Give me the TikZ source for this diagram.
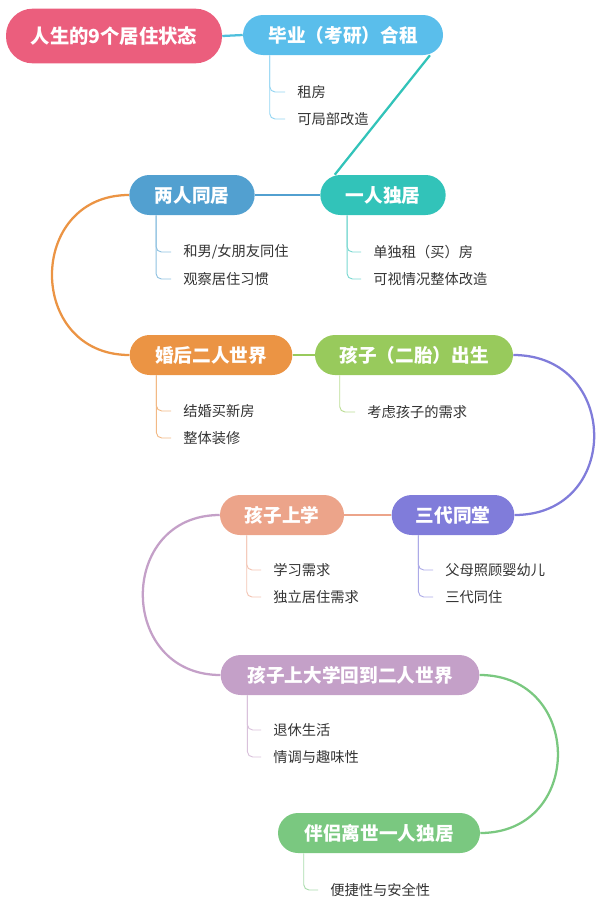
\documentclass[tikz,border=0pt]{standalone}
\usepackage{fontspec}
\setmainfont{Noto Sans CJK SC}
\usetikzlibrary{backgrounds}
\definecolor{ctitle}{RGB}{235,94,125}
\definecolor{cgrad}{RGB}{90,190,235}
\definecolor{csolo}{RGB}{50,195,185}
\definecolor{ccouple}{RGB}{82,160,208}
\definecolor{cmarried}{RGB}{235,148,68}
\definecolor{cbaby}{RGB}{152,202,92}
\definecolor{cthree}{RGB}{128,124,218}
\definecolor{cschool}{RGB}{236,164,138}
\definecolor{ccollege}{RGB}{196,160,200}
\definecolor{cwidow}{RGB}{122,200,128}
\tikzset{
  stage/.style={fill=#1,text=white,font=\bfseries\fontsize{14}{16}\selectfont,
    rounded corners=15pt,minimum height=30pt,inner sep=0pt},
  link/.style={draw=#1,line width=1.7pt},
  twig/.style={draw=#1!65,line width=0.7pt,rounded corners=4pt},
  item/.style={anchor=west,inner sep=0pt,text=black!80,font=\fontsize{10.7}{12}\selectfont}
}

\begin{document}
\begin{tikzpicture}[x=0.75pt,y=-0.75pt]
    \useasboundingbox (0,0) rectangle (600,907);
    % stages
    \node[stage=ctitle,minimum width=162pt,minimum height=41pt,rounded corners=20pt,
          font=\bfseries\fontsize{14.5}{16}\selectfont] (title) at (114,36) {人生的9个居住状态};
    \node[stage=cgrad,minimum width=150pt]     (grad)    at (343,35)  {毕业（考研）合租};
    \node[stage=csolo,minimum width=94pt]      (solo)    at (383,195) {一人独居};
    \node[stage=ccouple,minimum width=94pt]    (couple)  at (192,195) {两人同居};
    \node[stage=cmarried,minimum width=122pt]  (married) at (211,355) {婚后二人世界};
    \node[stage=cbaby,minimum width=148.5pt]   (baby)    at (414,355) {孩子（二胎）出生};
    \node[stage=cthree,minimum width=92pt]     (three)   at (453,515) {三代同堂};
    \node[stage=cschool,minimum width=93pt]    (school)  at (282,515) {孩子上学};
    \node[stage=ccollege,minimum width=194pt]  (college) at (350,675) {孩子上大学回到二人世界};
    \node[stage=cwidow,minimum width=151.5pt]  (widow)   at (379,833) {伴侣离世一人独居};
    % items
    \node[item] (g1) at (297,92)  {租房};
    \node[item] (g2) at (297,119) {可局部改造};
    \node[item] (c1) at (183,252) {和男/女朋友同住};
    \node[item] (c2) at (183,279) {观察居住习惯};
    \node[item] (s1) at (373,252) {单独租（买）房};
    \node[item] (s2) at (373,279) {可视情况整体改造};
    \node[item] (m1) at (183,411) {结婚买新房};
    \node[item] (m2) at (183,438) {整体装修};
    \node[item] (b1) at (367,412) {考虑孩子的需求};
    \node[item] (k1) at (273,570) {学习需求};
    \node[item] (k2) at (273,597) {独立居住需求};
    \node[item] (t1) at (445,570) {父母照顾婴幼儿};
    \node[item] (t2) at (445,597) {三代同住};
    \node[item] (u1) at (273,730) {退休生活};
    \node[item] (u2) at (273,757) {情调与趣味性};
    \node[item] (w1) at (330,890) {便捷性与安全性};
    \begin{scope}[on background layer]
    % main path
    \draw[link=cgrad!70!csolo] (title.east) -- (grad.west);
    \draw[link=csolo] ([xshift=-10pt]grad.south east) -- ([xshift=11pt]solo.north west);
    \draw[link=ccouple] (solo.west) -- (couple.east);
    \draw[link=cmarried] (couple.west) .. controls +(-103,0) and +(-103,0) .. (married.west);
    \draw[link=cbaby] (married.east) -- (baby.west);
    \draw[link=cthree] (baby.east) .. controls +(107,0) and +(107,0) .. (three.east);
    \draw[link=cschool] (three.west) -- (school.east);
    \draw[link=ccollege] (school.west) .. controls +(-103,0) and +(-103,0) .. (college.west);
    \draw[link=cwidow] (college.east) .. controls +(104,0) and +(104,0) .. (widow.east);
    \end{scope}
    % branches
    \foreach \i in {g1,g2} \draw[twig=cgrad] (grad.south west) ++(27,0) |- ([xshift=-9pt]\i.west);
    \foreach \i in {c1,c2} \draw[twig=ccouple] (couple.south west) ++(27,0) |- ([xshift=-9pt]\i.west);
    \foreach \i in {s1,s2} \draw[twig=csolo] (solo.south west) ++(27,0) |- ([xshift=-9pt]\i.west);
    \foreach \i in {m1,m2} \draw[twig=cmarried] (married.south west) ++(27,0) |- ([xshift=-9pt]\i.west);
    \draw[twig=cbaby] (baby.south west) ++(25,0) |- ([xshift=-9pt]b1.west);
    \foreach \i in {k1,k2} \draw[twig=cschool] (school.south west) ++(27,0) |- ([xshift=-9pt]\i.west);
    \foreach \i in {t1,t2} \draw[twig=cthree] (three.south west) ++(27,0) |- ([xshift=-9pt]\i.west);
    \foreach \i in {u1,u2} \draw[twig=ccollege] (college.south west) ++(27,0) |- ([xshift=-9pt]\i.west);
    \draw[twig=cwidow] (widow.south west) ++(26,0) |- ([xshift=-9pt]w1.west);
\end{tikzpicture}
\end{document}
